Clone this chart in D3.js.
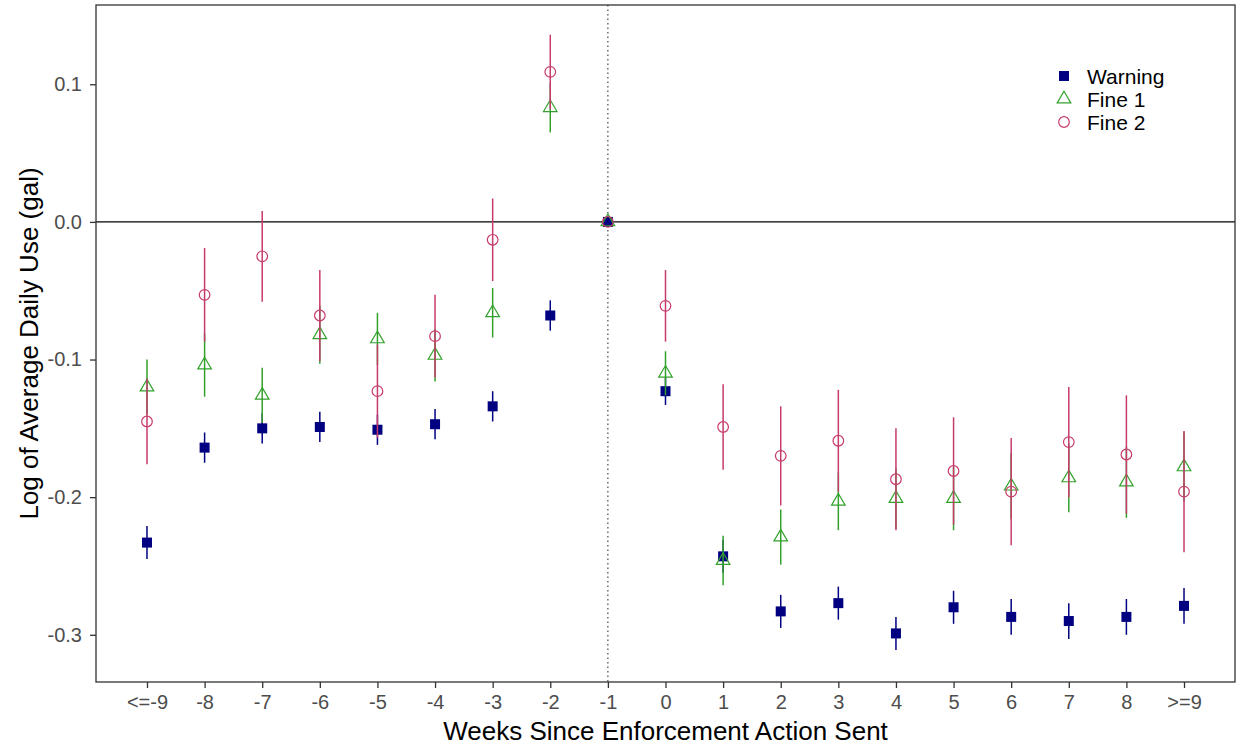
<!DOCTYPE html>
<html>
<head>
<meta charset="utf-8">
<script src="https://cdn.jsdelivr.net/npm/d3@7"></script>
<style>
  body { margin: 0; background: #fff; }
  text { font-family: "Liberation Sans", Arial, sans-serif; }
</style>
</head>
<body>
<svg id="chart" width="1238" height="748"></svg>
<script>
// categories on the x axis
var weeks = ["<=-9","-8","-7","-6","-5","-4","-3","-2","-1","0","1","2","3","4","5","6","7","8",">=9"]

// point estimates and half-widths of the error bars
var warning = [-0.233,-0.164,-0.150,-0.149,-0.151,-0.147,-0.134,-0.068,0,-0.123,-0.243,-0.283,-0.277,-0.299,-0.280,-0.287,-0.290,-0.287,-0.279]
var warningErr = [0.012,0.011,0.011,0.011,0.011,0.011,0.011,0.011,0,0.010,0.012,0.012,0.012,0.012,0.012,0.013,0.013,0.013,0.013]

var fine1 = [-0.120,-0.104,-0.126,-0.082,-0.085,-0.097,-0.066,0.083,0,-0.110,-0.246,-0.229,-0.203,-0.201,-0.201,-0.192,-0.186,-0.189,-0.178]
var fine1Err = [0.020,0.023,0.020,0.021,0.019,0.019,0.018,0.018,0,0.016,0.018,0.020,0.021,0.022,0.023,0.024,0.025,0.026,0.025]

var fine2 = [-0.145,-0.053,-0.025,-0.068,-0.123,-0.083,-0.013,0.109,0,-0.061,-0.149,-0.170,-0.159,-0.187,-0.181,-0.196,-0.160,-0.169,-0.196]
var fine2Err = [0.031,0.034,0.033,0.033,0.034,0.030,0.030,0.027,0,0.026,0.031,0.036,0.037,0.037,0.039,0.039,0.040,0.043,0.044]

var yTicks = [0.1, 0.0, -0.1, -0.2, -0.3]
var yTickLabels = ["0.1", "0.0", "-0.1", "-0.2", "-0.3"]

var series = [
  {name:"Warning", values:warning, err:warningErr, color:"#000080", shape:"square"},
  {name:"Fine 1", values:fine1, err:fine1Err, color:"#33a02c", shape:"triangle"},
  {name:"Fine 2", values:fine2, err:fine2Err, color:"#c73a6c", shape:"circle"}
]

var panelL = 96, panelR = 1235, panelT = 5, panelB = 682

var svg = d3.select("#chart")

var x = d3.scalePoint()
  .domain(weeks)
  .range([panelL, panelR])
  .padding(0.885)

var y = d3.scaleLinear()
  .domain([-0.3343, 0.1576])
  .range([panelB, panelT])

// reference lines
svg.append("line")
  .attr("x1", panelL).attr("x2", panelR)
  .attr("y1", y(0)).attr("y2", y(0))
  .attr("stroke", "#000").attr("stroke-width", 1.2)

svg.append("line")
  .attr("x1", x("-1")).attr("x2", x("-1"))
  .attr("y1", panelT).attr("y2", panelB)
  .attr("stroke", "#333").attr("stroke-width", 1.1)
  .attr("stroke-dasharray", "1.5,3")

function drawSymbol(g, shape, color, cx, cy) {
  if (shape == "square") {
    g.append("rect")
      .attr("x", cx - 5).attr("y", cy - 5)
      .attr("width", 10).attr("height", 10)
      .attr("fill", color)
  } else if (shape == "triangle") {
    var w = 6.8, h = 11.6
    g.append("path")
      .attr("d", "M" + cx + "," + (cy - h * 2 / 3) + "L" + (cx + w) + "," + (cy + h / 3) + "L" + (cx - w) + "," + (cy + h / 3) + "Z")
      .attr("fill", "none").attr("stroke", color).attr("stroke-width", 1.2)
  } else {
    g.append("circle")
      .attr("cx", cx).attr("cy", cy).attr("r", 5.3)
      .attr("fill", "none").attr("stroke", color).attr("stroke-width", 1.2)
  }
}

series.forEach(function(s) {
  var g = svg.append("g")
  var data = weeks.map(function(w, i) { return {w:w, v:s.values[i], e:s.err[i]} })

  g.selectAll("line.err")
    .data(data.filter(function(d) { return d.e > 0 }))
    .enter()
    .append("line")
    .attr("class", "err")
    .attr("x1", function(d) { return x(d.w) })
    .attr("x2", function(d) { return x(d.w) })
    .attr("y1", function(d) { return y(d.v + d.e) })
    .attr("y2", function(d) { return y(d.v - d.e) })
    .attr("stroke", s.color)
    .attr("stroke-width", 1.5)

  data.forEach(function(d) { drawSymbol(g, s.shape, s.color, x(d.w), y(d.v)) })
})

// panel border
svg.append("rect")
  .attr("x", panelL).attr("y", panelT)
  .attr("width", panelR - panelL).attr("height", panelB - panelT)
  .attr("fill", "none").attr("stroke", "#333").attr("stroke-width", 1.3)

// axes
var xAxis = svg.append("g")
  .attr("transform", "translate(0," + panelB + ")")
  .call(d3.axisBottom(x).tickSize(6).tickPadding(7))
xAxis.select(".domain").remove()
xAxis.selectAll("line").attr("stroke", "#333").attr("stroke-width", 1.3)
xAxis.selectAll("text").attr("fill", "#4d4d4d").style("font-size", "20px")
  .style("font-family", "Liberation Sans, Arial, sans-serif")

var yAxis = svg.append("g")
  .attr("transform", "translate(" + panelL + ",0)")
  .call(d3.axisLeft(y).tickValues(yTicks).tickFormat(function(d, i) { return yTickLabels[i] }).tickSize(6).tickPadding(8))
yAxis.select(".domain").remove()
yAxis.selectAll("line").attr("stroke", "#333").attr("stroke-width", 1.3)
yAxis.selectAll("text").attr("fill", "#4d4d4d").style("font-size", "20px")
  .style("font-family", "Liberation Sans, Arial, sans-serif")

// axis titles
svg.append("text")
  .attr("x", (panelL + panelR) / 2)
  .attr("y", 740)
  .attr("text-anchor", "middle")
  .style("font-size", "26px")
  .text("Weeks Since Enforcement Action Sent")

svg.append("text")
  .attr("transform", "translate(38," + (panelT + panelB) / 2 + ") rotate(-90)")
  .attr("text-anchor", "middle")
  .style("font-size", "26px")
  .text("Log of Average Daily Use (gal)")

// legend
var legend = svg.append("g")
series.forEach(function(s, i) {
  var ly = 76 + i * 23
  drawSymbol(legend, s.shape, s.color, 1064, ly)
  legend.append("text")
    .attr("x", 1087)
    .attr("y", ly + 7.5)
    .style("font-size", "21px")
    .text(s.name)
})
</script>
</body>
</html>
